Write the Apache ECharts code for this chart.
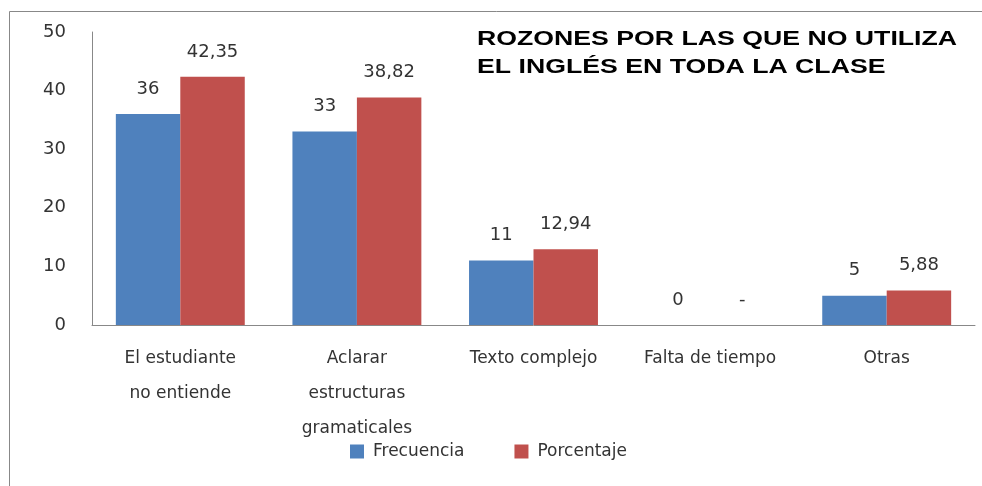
<!DOCTYPE html>
<html>
<head>
<meta charset="utf-8">
<script src="https://cdn.jsdelivr.net/npm/echarts@6/dist/echarts.min.js"></script>
<style>
html,body{margin:0;padding:0;background:#fff;}
#chart{width:982px;height:486px;}
</style>
</head>
<body>
<div id="chart"></div>
<script>
// categorias y valores
var categorias = ['El estudiante\nno entiende', 'Aclarar\nestructuras\ngramaticales', 'Texto complejo', 'Falta de tiempo', 'Otras'];
var frecuencia = [36, 33, 11, 0, 5];
var porcentaje = [42.35, 38.82, 12.94, 0, 5.88];
var y_ticks = [0, 10, 20, 30, 40, 50];
var titulo = 'ROZONES POR LAS QUE NO UTILIZA\nEL INGLÉS EN TODA LA CLASE';

var fuente = 'DejaVu Sans';

function etiqueta(params){
    if(params.seriesName == 'Porcentaje'){
        if(params.value == 0){
            return '-';
        }
        return params.value.toFixed(2).replace('.', ',');
    }
    return String(params.value);
}

var myChart = echarts.init(document.getElementById('chart'));
var option = {
    animation: false,
    backgroundColor: '#fff',
    graphic: [
        {
            type: 'rect',
            shape: {x: 9.5, y: 11.5, width: 1000, height: 1000},
            style: {fill: 'none', stroke: '#888', lineWidth: 1},
            silent: true,
            z: -1
        },
        {
            type: 'text',
            x: 477,
            y: 25,
            scaleX: 1.27,
            style: {
                text: titulo,
                font: 'bold 21px "Liberation Sans"',
                lineHeight: 28,
                fill: '#000'
            }
        }
    ],
    legend: {
        data: ['Frecuencia', 'Porcentaje'],
        left: 345,
        top: 438,
        itemWidth: 14,
        itemHeight: 14,
        itemGap: 50,
        icon: 'rect',
        textStyle: {fontFamily: fuente, fontSize: 17, color: '#333', padding: [0, 0, 0, 4]}
    },
    grid: {left: 92, right: 7, top: 32, bottom: 161},
    xAxis: {
        type: 'category',
        data: categorias,
        axisLine: {lineStyle: {color: '#888'}},
        axisTick: {show: false},
        axisLabel: {
            interval: 0,
            margin: 16,
            fontFamily: fuente,
            fontSize: 17,
            lineHeight: 35,
            color: '#333'
        }
    },
    yAxis: {
        type: 'value',
        min: y_ticks[0],
        max: y_ticks[y_ticks.length - 1],
        interval: 10,
        axisLine: {show: true, lineStyle: {color: '#888'}},
        axisTick: {show: false},
        splitLine: {show: false},
        axisLabel: {
            margin: 26,
            fontFamily: fuente,
            fontSize: 18,
            color: '#333'
        }
    },
    series: [
        {
            name: 'Frecuencia',
            type: 'bar',
            data: frecuencia,
            barGap: '0%',
            barCategoryGap: '27%',
            itemStyle: {color: '#4F81BD'},
            label: {
                show: true,
                position: 'top',
                distance: 16,
                formatter: etiqueta,
                fontFamily: fuente,
                fontSize: 18,
                color: '#333'
            }
        },
        {
            name: 'Porcentaje',
            type: 'bar',
            data: porcentaje,
            itemStyle: {color: '#C0504D'},
            label: {
                show: true,
                position: 'top',
                distance: 16,
                formatter: etiqueta,
                fontFamily: fuente,
                fontSize: 18,
                color: '#333'
            }
        }
    ]
};
myChart.setOption(option);
</script>
</body>
</html>
